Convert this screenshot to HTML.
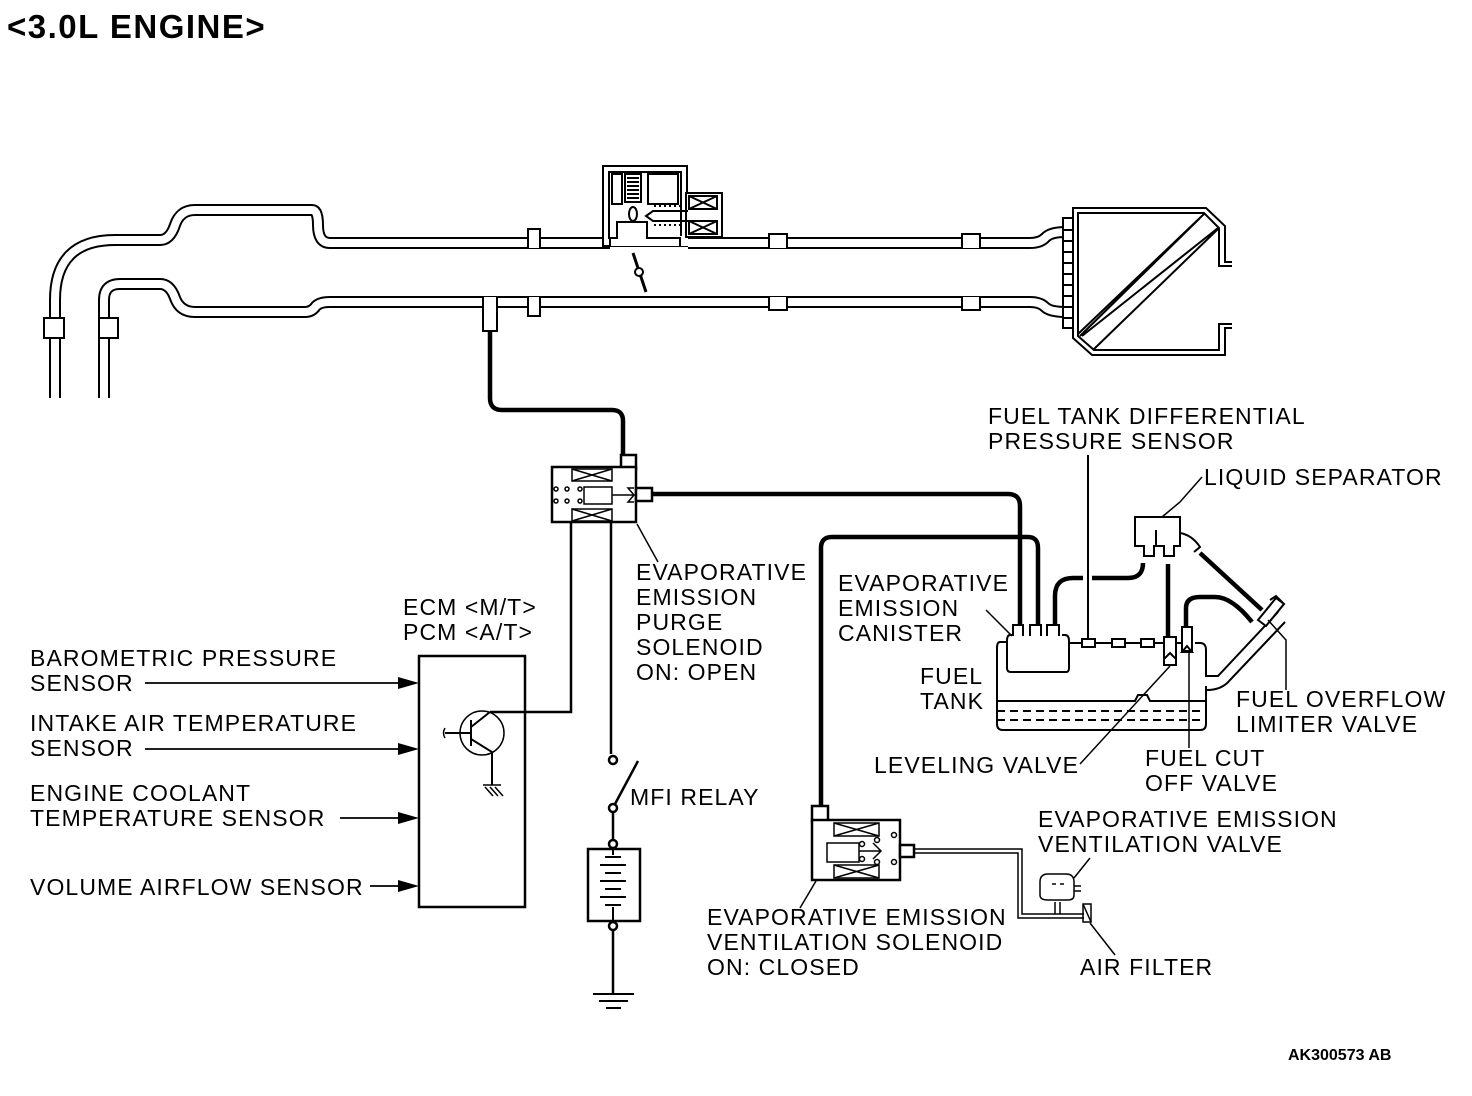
<!DOCTYPE html>
<html><head><meta charset="utf-8"><style>
body{margin:0;background:#fff}
svg{display:block}
text{font-family:"Liberation Sans",Arial,sans-serif;font-size:23px;letter-spacing:1.1px;fill:#000}
</style></head><body>
<svg width="1472" height="1096" viewBox="0 0 1472 1096" xmlns="http://www.w3.org/2000/svg">
<text x="7" y="38" style="font-size:33px;font-weight:bold;letter-spacing:1.5px">&lt;3.0L ENGINE&gt;</text>

<g fill="none" stroke-linejoin="round">
<g stroke="#000" stroke-width="12">
<path d="M55 400 V300 Q55 240 115 240 H160 Q170 240 175 225 Q180 210 195 210 H312 Q318 210 318 225 Q318 243 330 243 H610"/>
<path d="M104 400 V300 Q104 284 120 284 H160 Q170 284 175 298 Q180 312 195 312 H305 Q312 312 316 306 Q320 302 330 302 H1030 Q1040 302 1045 307 Q1050 312 1066 312"/>
<path d="M688 243 H1030 Q1040 243 1045 238 Q1050 232 1066 232"/>
</g>
<g stroke="#fff" stroke-width="8">
<path d="M55 400 V300 Q55 240 115 240 H160 Q170 240 175 225 Q180 210 195 210 H312 Q318 210 318 225 Q318 243 330 243 H610"/>
<path d="M104 400 V300 Q104 284 120 284 H160 Q170 284 175 298 Q180 312 195 312 H305 Q312 312 316 306 Q320 302 330 302 H1030 Q1040 302 1045 307 Q1050 312 1066 312"/>
<path d="M688 243 H1030 Q1040 243 1045 238 Q1050 232 1066 232"/>
</g>
</g>
<rect x="45" y="398" width="70" height="6" fill="#fff"/>
<g fill="#fff" stroke="#000" stroke-width="2">
<rect x="44" y="318" width="20" height="20"/><rect x="99" y="318" width="19" height="20"/>
<path d="M528 248 V229 H540 V248"/><path d="M528 297 V316 H540 V297"/>
<path d="M769 248 V234 H787 V248"/><path d="M769 297 V310 H787 V297"/>
<path d="M962 248 V234 H980 V248"/><path d="M962 297 V310 H980 V297"/>
<path d="M483 297 V331 H497 V297" />
</g>
<g fill="none" stroke="#000" stroke-width="2">
<rect x="603" y="166" width="84" height="80" fill="#fff"/>
<rect x="609" y="172" width="72" height="66"/>
<rect x="612" y="174" width="10" height="30"/>
<rect x="625" y="174" width="16" height="28"/>
<path d="M627 178 h12 M627 182 h12 M627 186 h12 M627 190 h12 M627 194 h12 M627 198 h12"/>
<rect x="648" y="174" width="30" height="30"/>
<rect x="617" y="222" width="30" height="18" fill="#fff"/>
<rect x="610" y="236" width="78" height="10" fill="#fff" stroke="none"/>
<path d="M610 246 V238 H617 V222 H647 V238 H680 V246"/>
<ellipse cx="633" cy="214" rx="4" ry="7"/>
<rect x="686" y="193" width="36" height="44" fill="#fff"/>
<rect x="689" y="196" width="28" height="13"/><path d="M689 196 l28 13 M717 196 l-28 13"/>
<rect x="689" y="221" width="28" height="13"/><path d="M689 221 l28 13 M717 221 l-28 13"/>
<path d="M688 211 h-35 l-7 5 l7 5 h35"/>
<path d="M654 206 h30 M654 225 h30" stroke-dasharray="2 3"/>
<path d="M633 253 L646 292" stroke-width="3"/>
<circle cx="639" cy="272" r="4" fill="#fff"/>
</g>
<!-- air cleaner -->
<g fill="none" stroke="#000" stroke-width="2">
<rect x="1063" y="218" width="10" height="110" fill="#fff"/>
<path d="M1063 230 h10 M1063 241 h10 M1063 252 h10 M1063 263 h10 M1063 274 h10 M1063 285 h10 M1063 296 h10 M1063 307 h10 M1063 318 h10"/>
<path d="M1232 262 H1225 V226 L1206 208 H1073 V338 L1092 355 H1225 V328 H1232"/>
<path d="M1232 266 H1219 V228 L1204 213 H1078 V336 L1094 350 H1219 V324 H1232"/>
<path d="M1078 334 L1204 214 M1082 336 L1218 228 M1094 349 L1218 229 M1080 336 L1200 218"/>
</g>
<g fill="none" stroke="#000" stroke-width="4.5">
<path d="M490 331 V398 Q490 410 502 410 H612 Q623 410 623 421 V456"/>
<path d="M652 494 H1008 Q1020 494 1020 506 V626"/>
<path d="M821 806 V548 Q821 537 832 537 H1028 Q1038 537 1038 548 V626"/>
<path d="M1055 626 V596 Q1055 578 1073 578 H1083 M1092 578 H1128 Q1143 578 1143 563"/>
<path d="M1168 564 V638"/>
<path d="M1200 553 L1262 610"/>
<path d="M1186 628 V608 Q1186 597 1200 597 H1215 Q1232 597 1252 622"/>
</g>
<g fill="#fff" stroke="#000" stroke-width="2.5">
<rect x="621" y="455" width="15" height="14"/>
<rect x="552" y="467" width="84" height="55"/>
<rect x="636" y="488" width="16" height="13"/>
</g>
<g fill="none" stroke="#000" stroke-width="1.5">
<rect x="572" y="469" width="40" height="12"/><path d="M572 469 l40 12 M612 469 l-40 12"/>
<rect x="572" y="509" width="40" height="12"/><path d="M572 509 l40 12 M612 509 l-40 12"/>
<rect x="584" y="487" width="28" height="17"/>
<path d="M612 495 H634 M634 488 l-6 0 l6 7 l-6 7 h6"/>
<circle cx="556" cy="489" r="2"/><circle cx="567" cy="489" r="2"/><circle cx="580" cy="489" r="2"/>
<circle cx="556" cy="501" r="2"/><circle cx="567" cy="501" r="2"/><circle cx="580" cy="501" r="2"/>
</g>
<g fill="none" stroke="#000" stroke-width="2.5">
<path d="M571 522 V712 H490"/>
<path d="M611 522 V754"/>
<rect x="419" y="656" width="106" height="251"/>
<circle cx="482" cy="733" r="22" stroke-width="1.5"/>
<path d="M471 720 V746 M445 733 H471 M471 727 L490 712 M471 739 L492 752 V785" stroke-width="2"/>
<path d="M445 728 q-3 5 0 10" stroke-width="1.5"/>
<path d="M483 785 h18 M485 787 l8 9 M490 787 l8 9 M495 787 l8 9" stroke-width="1.5"/>
<circle cx="613" cy="760" r="4"/><circle cx="613" cy="808" r="4"/>
<path d="M615 804 L638 761"/>
<path d="M613 812 V840"/><circle cx="613" cy="844" r="4"/>
<rect x="588" y="849" width="52" height="72"/>
<circle cx="613" cy="926" r="4"/>
<path d="M613 930 V993"/>
<path d="M593 994 h41 M599 1001 h29 M606 1008 h15" stroke-width="2"/>
<path d="M605 857 h16 M600 865 h26 M605 873 h16 M600 881 h26 M605 889 h16 M600 897 h26 M605 905 h16 M613 849 V855 M613 907 V921" stroke-width="2"/>
</g>
<g stroke="#000" stroke-width="1.8">
<line x1="145" y1="683" x2="405" y2="683"/><line x1="145" y1="749" x2="405" y2="749"/>
<line x1="340" y1="818" x2="405" y2="818"/><line x1="370" y1="886" x2="405" y2="886"/>
</g>
<g fill="#000">
<polygon points="398,677 419,683 398,689"/><polygon points="398,743 419,749 398,755"/>
<polygon points="398,812 419,818 398,824"/><polygon points="398,880 419,886 398,892"/>
</g>
<g fill="none" stroke="#000" stroke-width="2">
<path d="M1008 642 H1000 Q997 642 997 648 V724 Q997 730 1003 730 H1200 Q1206 730 1206 724 V686 M1206 677 V650 Q1206 643 1200 643 H1195"/>
<path d="M1068 643 H1082 M1095 643 H1112 M1125 643 H1141 M1153 643 H1166 M1175 643 H1183"/>
<rect x="1082" y="639" width="13" height="8"/><rect x="1112" y="639" width="13" height="8"/><rect x="1141" y="639" width="13" height="8"/>
<path d="M997 701 H1135 l3 -6 h9 l3 6 H1206"/>
<path d="M997 711 H1206 M997 720 H1206" stroke-dasharray="8 5"/>
<path d="M1018 635 H1010 Q1007 635 1007 641 V668 Q1007 672 1011 672 H1066 Q1069 672 1069 668 V641 Q1069 635 1065 635 H1062" fill="#fff"/>
<path d="M1013 636 V625 H1023 V636 M1030 636 V625 H1041 V636 M1047 636 V625 H1059 V636" fill="#fff"/>
<rect x="1164" y="637" width="12" height="22" fill="#fff"/><path d="M1164 665 v-6 l6 -6 l6 6 v6 Z" fill="#fff"/>
<rect x="1182" y="627" width="10" height="24" fill="#fff"/><path d="M1182 652 l5 -6 l5 6 Z"/>
<path d="M1135 517 H1180 V546 H1174 V556 H1164 V546 H1154 V556 H1144 V546 H1135 Z" fill="#fff"/>
<path d="M1156 530 V545 M1180 533 q12 2 20 14 l-6 5"/>
<path d="M1207 676 H1218 L1278 612 M1207 690 Q1222 690 1230 680 L1285 622"/>
<path d="M1258 620 l18 -22 l8 6 l-18 22 Z M1270 600 l6 -4 l8 8" fill="#fff"/>
<line x1="1088" y1="455" x2="1088" y2="639"/>
</g>
<g fill="#fff" stroke="#000" stroke-width="2.5">
<rect x="812" y="806" width="16" height="16"/>
<rect x="812" y="820" width="88" height="60"/>
<rect x="900" y="845" width="14" height="12"/>
</g>
<g fill="none" stroke="#000" stroke-width="1.5">
<rect x="834" y="823" width="45" height="13"/><path d="M834 823 l45 13 M879 823 l-45 13"/>
<rect x="834" y="865" width="45" height="13"/><path d="M834 865 l45 13 M879 865 l-45 13"/>
<rect x="827" y="843" width="32" height="19"/>
<path d="M859 851 H880 M873 843 l8 8 l-8 8"/>
<circle cx="862" cy="844" r="2.5"/><circle cx="862" cy="859" r="2.5"/><circle cx="877" cy="840" r="2.5"/><circle cx="877" cy="862" r="2.5"/><circle cx="894" cy="835" r="2.5"/><circle cx="894" cy="862" r="2.5"/>
<path d="M914 849 H1022 V914 H1084 M914 853 H1018 V918 H1084"/>
<path d="M1048 874 Q1040 874 1040 882 V895 Q1040 900 1048 900 H1068 Q1074 900 1074 895 V882 Q1074 874 1066 874 Z"/>
<path d="M1074 886 H1081 M1074 891 H1081 M1052 884 h4 M1060 884 h4 M1055 902 V914 M1060 902 V914"/>
<rect x="1083" y="904" width="8" height="18"/><path d="M1083 904 l8 18"/>
</g>
<g stroke="#000" stroke-width="1.5" fill="none">
<path d="M658 562 L637 524"/>
<path d="M986 610 L1012 636"/>
<path d="M1202 477 L1180 502 L1162 517"/>
<path d="M1080 764 L1170 666"/>
<path d="M1189 748 V652"/>
<path d="M1286 690 V640 L1268 620"/>
<path d="M1090 858 L1074 878"/>
<path d="M1115 955 L1090 923"/>
<path d="M800 908 L816 881"/>
</g>
<text x="988" y="424">FUEL TANK DIFFERENTIAL</text>
<text x="988" y="449">PRESSURE SENSOR</text>
<text x="1204" y="485">LIQUID SEPARATOR</text>
<text x="636" y="580">EVAPORATIVE</text>
<text x="636" y="605">EMISSION</text>
<text x="636" y="630">PURGE</text>
<text x="636" y="655">SOLENOID</text>
<text x="636" y="680">ON: OPEN</text>
<text x="403" y="615">ECM &lt;M/T&gt;</text>
<text x="403" y="640">PCM &lt;A/T&gt;</text>
<text x="838" y="591">EVAPORATIVE</text>
<text x="838" y="616">EMISSION</text>
<text x="838" y="641">CANISTER</text>
<text x="920" y="684">FUEL</text>
<text x="920" y="709">TANK</text>
<text x="30" y="666">BAROMETRIC PRESSURE</text>
<text x="30" y="691">SENSOR</text>
<text x="30" y="731">INTAKE AIR TEMPERATURE</text>
<text x="30" y="756">SENSOR</text>
<text x="30" y="801">ENGINE COOLANT</text>
<text x="30" y="826">TEMPERATURE SENSOR</text>
<text x="30" y="895">VOLUME AIRFLOW SENSOR</text>
<text x="1236" y="707">FUEL OVERFLOW</text>
<text x="1236" y="732">LIMITER VALVE</text>
<text x="874" y="773">LEVELING VALVE</text>
<text x="1145" y="766">FUEL CUT</text>
<text x="1145" y="791">OFF VALVE</text>
<text x="630" y="805">MFI RELAY</text>
<text x="1038" y="827">EVAPORATIVE EMISSION</text>
<text x="1038" y="852">VENTILATION VALVE</text>
<text x="707" y="925">EVAPORATIVE EMISSION</text>
<text x="707" y="950">VENTILATION SOLENOID</text>
<text x="707" y="975">ON: CLOSED</text>
<text x="1080" y="975">AIR FILTER</text>
<text x="1288" y="1060" style="font-size:16px;font-weight:bold;letter-spacing:0">AK300573 AB</text>
</svg>
</body></html>
